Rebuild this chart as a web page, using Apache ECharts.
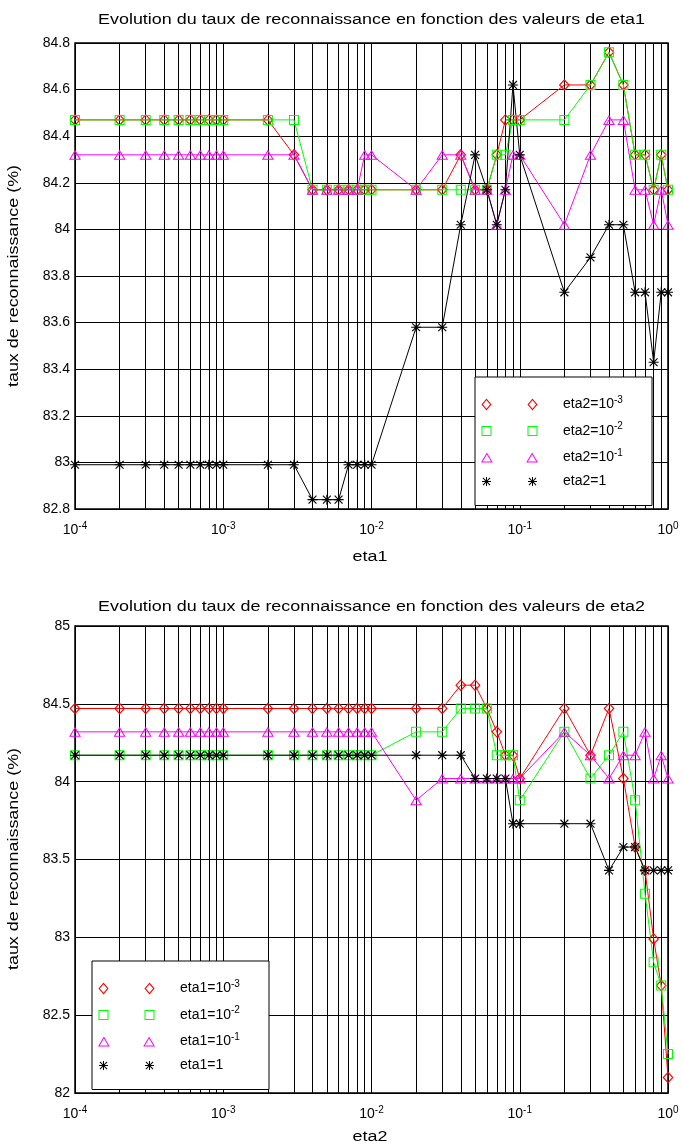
<!DOCTYPE html>
<html>
<head>
<meta charset="utf-8">
<script src="https://cdn.jsdelivr.net/npm/echarts@6/dist/echarts.min.js"></script>
<style>
html, body { margin: 0; padding: 0; background: #fff; }
#main { width: 682px; height: 1145px; }
</style>
</head>
<body>
<div id="main"></div>
<script>
// valeurs de eta (axe x, echelle log)
var xs = [0.0001, 0.0002, 0.0003, 0.0004, 0.0005, 0.0006, 0.0007, 0.0008, 0.0009,
          0.001, 0.002, 0.003, 0.004, 0.005, 0.006, 0.007, 0.008, 0.009,
          0.01, 0.02, 0.03, 0.04, 0.05, 0.06, 0.07, 0.08, 0.09,
          0.1, 0.2, 0.3, 0.4, 0.5, 0.6, 0.7, 0.8, 0.9, 1];

// graphe 1 : taux en fonction de eta1
var tauxEta2_1e3 = [84.47, 84.47, 84.47, 84.47, 84.47, 84.47, 84.47, 84.47, 84.47,
                    84.47, 84.47, 84.32, 84.17, 84.17, 84.17, 84.17, 84.17, 84.17,
                    84.17, 84.17, 84.17, 84.32, 84.17, 84.17, 84.32, 84.47, 84.47,
                    84.47, 84.62, 84.62, 84.76, 84.62, 84.32, 84.32, 84.17, 84.32, 84.17];
var tauxEta2_1e2 = [84.47, 84.47, 84.47, 84.47, 84.47, 84.47, 84.47, 84.47, 84.47,
                    84.47, 84.47, 84.47, 84.17, 84.17, 84.17, 84.17, 84.17, 84.17,
                    84.17, 84.17, 84.17, 84.17, 84.17, 84.17, 84.32, 84.32, 84.47,
                    84.47, 84.47, 84.62, 84.76, 84.62, 84.32, 84.32, 84.17, 84.32, 84.17];
var tauxEta2_1e1 = [84.32, 84.32, 84.32, 84.32, 84.32, 84.32, 84.32, 84.32, 84.32,
                    84.32, 84.32, 84.32, 84.17, 84.17, 84.17, 84.17, 84.17, 84.32,
                    84.32, 84.17, 84.32, 84.32, 84.17, 84.17, 84.02, 84.17, 84.32,
                    84.32, 84.02, 84.32, 84.47, 84.47, 84.17, 84.17, 84.02, 84.17, 84.02];
var tauxEta2_1 = [82.99, 82.99, 82.99, 82.99, 82.99, 82.99, 82.99, 82.99, 82.99,
                  82.99, 82.99, 82.99, 82.84, 82.84, 82.84, 82.99, 82.99, 82.99,
                  82.99, 83.58, 83.58, 84.02, 84.32, 84.17, 84.02, 84.17, 84.62,
                  84.32, 83.73, 83.88, 84.02, 84.02, 83.73, 83.73, 83.43, 83.73, 83.73];

// graphe 2 : taux en fonction de eta2
var tauxEta1_1e3 = [84.47, 84.47, 84.47, 84.47, 84.47, 84.47, 84.47, 84.47, 84.47,
                    84.47, 84.47, 84.47, 84.47, 84.47, 84.47, 84.47, 84.47, 84.47,
                    84.47, 84.47, 84.47, 84.62, 84.62, 84.47, 84.32, 84.17, 84.17,
                    84.02, 84.47, 84.17, 84.47, 84.02, 83.58, 83.43, 82.99, 82.69, 82.10];
var tauxEta1_1e2 = [84.17, 84.17, 84.17, 84.17, 84.17, 84.17, 84.17, 84.17, 84.17,
                    84.17, 84.17, 84.17, 84.17, 84.17, 84.17, 84.17, 84.17, 84.17,
                    84.17, 84.32, 84.32, 84.47, 84.47, 84.47, 84.17, 84.17, 84.17,
                    83.88, 84.32, 84.02, 84.17, 84.32, 83.88, 83.28, 82.84, 82.69, 82.25];
var tauxEta1_1e1 = [84.32, 84.32, 84.32, 84.32, 84.32, 84.32, 84.32, 84.32, 84.32,
                    84.32, 84.32, 84.32, 84.32, 84.32, 84.32, 84.32, 84.32, 84.32,
                    84.32, 83.88, 84.02, 84.02, 84.02, 84.02, 84.02, 84.02, 84.02,
                    84.02, 84.32, 84.17, 84.02, 84.17, 84.17, 84.32, 84.02, 84.17, 84.02];
var tauxEta1_1 = [84.17, 84.17, 84.17, 84.17, 84.17, 84.17, 84.17, 84.17, 84.17,
                  84.17, 84.17, 84.17, 84.17, 84.17, 84.17, 84.17, 84.17, 84.17,
                  84.17, 84.17, 84.17, 84.17, 84.02, 84.02, 84.02, 84.02, 83.73,
                  83.73, 83.73, 83.73, 83.43, 83.58, 83.58, 83.43, 83.43, 83.43, 83.43];

var noms1 = ['eta2=10-3', 'eta2=10-2', 'eta2=10-1', 'eta2=1'];
var noms2 = ['eta1=10-3', 'eta1=10-2', 'eta1=10-1', 'eta1=1'];
var couleurs = ['#ff0000', '#00ff00', '#ff00ff', '#000000'];

var FONT = 'Liberation Sans, Arial, Helvetica, sans-serif';

// marqueurs creux (anneau = contour exterieur + contour interieur inverse)
var marqueurs = [
    { w: 10, h: 12, polys: [[[5, 0], [10, 6], [5, 12], [0, 6]], [[5, 1.7], [1.4, 6], [5, 10.3], [8.6, 6]]] },
    { w: 10, h: 10, polys: [[[0, 0], [10, 0], [10, 10], [0, 10]], [[1, 1], [1, 9], [9, 9], [9, 1]]] },
    { w: 12, h: 10, polys: [[[6, 0], [12, 10], [0, 10]], [[6, 1.95], [1.77, 9], [10.23, 9]]] },
    { w: 9, h: 9, polys: [[[0, 4], [9, 4], [9, 5], [0, 5]], [[4, 0], [5, 0], [5, 9], [4, 9]],
                          [[0.6, 1.3], [1.3, 0.6], [8.4, 7.7], [7.7, 8.4]], [[7.7, 0.6], [8.4, 1.3], [1.3, 8.4], [0.6, 7.7]]] }
];
var tailles = [[11, 12], [10, 10], [12, 10], [10, 10]];

function polyPath(polys, dx, dy) {
    var s = '';
    polys.forEach(function (p) {
        p.forEach(function (pt, i) {
            s += (i === 0 ? 'M' : 'L') + (pt[0] + dx).toFixed(2) + ',' + (pt[1] + dy).toFixed(2) + ' ';
        });
        s += 'Z ';
    });
    return s;
}

function symbolPath(m) {
    return 'path://' + polyPath(m.polys, 0, 0);
}

// icone de legende : deux marqueurs comme dans matlab
var ICON_W = 57, ICON_H = 12;
function iconPath(m) {
    var s = 'M0,0 L0,0 Z M' + ICON_W + ',' + ICON_H + ' L' + ICON_W + ',' + ICON_H + ' Z ';
    var dy = (ICON_H - m.h) / 2;
    s += polyPath(m.polys, 5.5 - m.w / 2, dy);
    s += polyPath(m.polys, 51.5 - m.w / 2, dy);
    return 'path://' + s;
}

function makeSeries(nom, vals, k, g) {
    var s = {
        name: nom,
        type: 'line',
        xAxisIndex: g,
        yAxisIndex: g,
        data: xs.map(function (x, i) { return [x, vals[i]]; }),
        symbol: symbolPath(marqueurs[k]),
        symbolSize: tailles[k],
        showAllSymbol: true,
        lineStyle: { color: couleurs[k], width: 1 },
        itemStyle: { color: couleurs[k], borderWidth: 0 },
        emphasis: { disabled: true },
        silent: true,
        z: 3
    };
    if (k === 0) {
        // lignes verticales de la grille log (2..9 x 10^n)
        s.markLine = {
            silent: true,
            z: 1,
            precision: 8,
            symbol: ['none', 'none'],
            label: { show: false },
            lineStyle: { type: 'solid', color: '#000', width: 1 },
            emphasis: { disabled: true },
            data: xs.slice(1, -1).map(function (x) { return { xAxis: x }; })
        };
    }
    return s;
}

function makeLegend(noms, left, top) {
    return {
        orient: 'vertical',
        left: left,
        top: top,
        padding: [18, 9, 17, 6],
        itemWidth: ICON_W,
        itemHeight: ICON_H,
        itemGap: 10,
        borderColor: '#000',
        borderWidth: 1,
        backgroundColor: '#fff',
        itemStyle: { borderWidth: 0 },
        selectedMode: false,
        data: noms.map(function (n, k) { return { name: n, icon: iconPath(marqueurs[k]) }; }),
        formatter: function (n) { return n.replace(/=10(-\d+)$/, '=10{sup|$1}'); },
        textStyle: {
            fontFamily: FONT, fontSize: 14, color: '#000', lineHeight: 14,
            padding: [0, 0, 0, 20], width: 80,
            rich: { sup: { fontFamily: FONT, fontSize: 10, color: '#000', padding: [0, 0, 9, 0] } }
        }
    };
}

function makeXAxis(g) {
    return {
        type: 'log',
        logBase: 10,
        gridIndex: g,
        min: 0.0001,
        max: 1,
        axisLine: { show: true, lineStyle: { color: '#000', width: 1 } },
        axisTick: { show: false },
        splitLine: { show: true, lineStyle: { color: '#000', width: 1 } },
        axisLabel: {
            margin: 12,
            fontFamily: FONT, fontSize: 14, color: '#000',
            formatter: function (v) { return '10{sup|' + Math.round(Math.log10(v)) + '}'; },
            rich: { sup: { fontFamily: FONT, fontSize: 10, color: '#000', padding: [0, 0, 9, 0] } }
        }
    };
}

function makeYAxis(g, mn, mx, iv) {
    return {
        type: 'value',
        gridIndex: g,
        min: mn,
        max: mx,
        interval: iv,
        axisLine: { show: true, lineStyle: { color: '#000', width: 1 } },
        axisTick: { show: false },
        splitLine: { show: true, lineStyle: { color: '#000', width: 1 } },
        axisLabel: {
            margin: 5,
            fontFamily: FONT, fontSize: 14, color: '#000',
            formatter: function (v) { return String(+v.toFixed(1)); }
        }
    };
}

function texte(t, x, y, rot) {
    return {
        type: 'text',
        x: x,
        y: y,
        rotation: rot || 0,
        scaleX: 1.28,
        silent: true,
        style: { text: t, fontFamily: FONT, fontSize: 14, fill: '#000', align: 'center', verticalAlign: 'middle' }
    };
}

var series = [];
[tauxEta2_1e3, tauxEta2_1e2, tauxEta2_1e1, tauxEta2_1].forEach(function (v, k) {
    series.push(makeSeries(noms1[k], v, k, 0));
});
[tauxEta1_1e3, tauxEta1_1e2, tauxEta1_1e1, tauxEta1_1].forEach(function (v, k) {
    series.push(makeSeries(noms2[k], v, k, 1));
});

var chart = echarts.init(document.getElementById('main'));
chart.setOption({
    animation: false,
    backgroundColor: '#fff',
    grid: [
        { left: 75, top: 43, width: 593, height: 466, show: true, borderColor: '#000', borderWidth: 1.5, backgroundColor: '#fff' },
        { left: 75, top: 626, width: 593, height: 467, show: true, borderColor: '#000', borderWidth: 1.5, backgroundColor: '#fff' }
    ],
    xAxis: [makeXAxis(0), makeXAxis(1)],
    yAxis: [makeYAxis(0, 82.8, 84.8, 0.2), makeYAxis(1, 82, 85, 0.5)],
    legend: [makeLegend(noms1, 475, 377), makeLegend(noms2, 92, 961)],
    graphic: [
        texte('Evolution du taux de reconnaissance en fonction des valeurs de eta1', 371.5, 20),
        texte('Evolution du taux de reconnaissance en fonction des valeurs de eta2', 371.5, 607),
        texte('eta1', 370, 557),
        texte('eta2', 370, 1137),
        texte('taux de reconnaissance (%)', 14, 276, Math.PI / 2),
        texte('taux de reconnaissance (%)', 14, 859, Math.PI / 2)
    ],
    series: series
});
</script>
</body>
</html>
